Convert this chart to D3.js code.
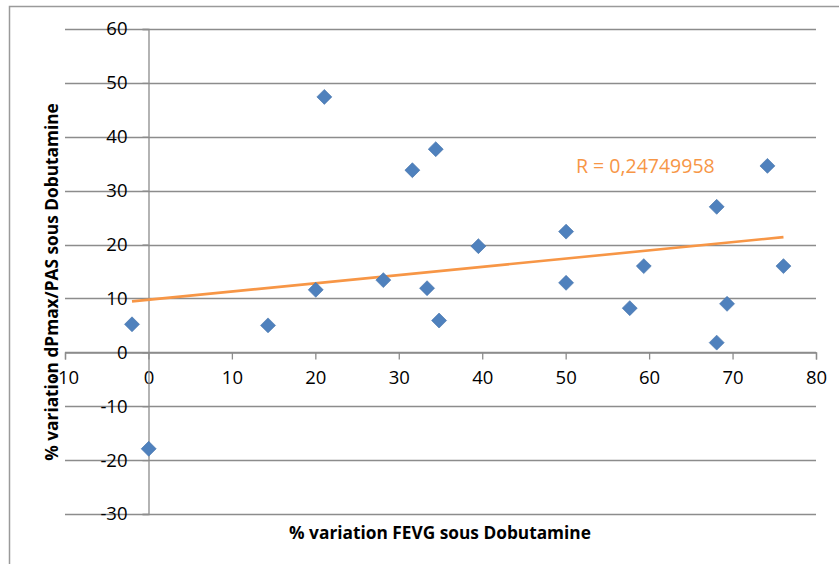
<!DOCTYPE html>
<html>
<head>
<meta charset="utf-8">
<script src="https://cdn.jsdelivr.net/npm/d3@7"></script>
<style>
  html, body { margin: 0; padding: 0; background: #fff; }
  svg { display: block; }
  text { font-family: "Open Sans", "Liberation Sans", sans-serif; }
</style>
</head>
<body>
<svg id="chart" width="839" height="564"></svg>
<script>
// ---- data ----
const xValues = [-1.97, 0.03, 14.33, 20.05, 21.08, 28.15, 31.63, 33.39, 34.43, 34.83, 39.54, 50.05, 50.05, 57.68, 59.36, 68.1, 68.1, 69.34, 74.18, 76.1];
const yValues = [5.2, -17.9, 5.0, 11.6, 47.4, 13.4, 33.8, 11.9, 37.7, 5.9, 19.7, 22.4, 12.9, 8.2, 16.0, 27.0, 1.8, 9.0, 34.6, 16.0];
const xTicks = [-10, 0, 10, 20, 30, 40, 50, 60, 70, 80];
const yTicks = [-30, -20, -10, 0, 10, 20, 30, 40, 50, 60];
const xTitle = "% variation FEVG sous Dobutamine";
const yTitle = "% variation dPmax/PAS sous Dobutamine";
const rLabel = "R = 0,24749958";

// ---- layout ----
const svg = d3.select("#chart");
const plot = { left: 65, right: 816, top: 29, bottom: 514 };
const x = d3.scaleLinear().domain([-10, 80]).range([plot.left, plot.right]);
const y = d3.scaleLinear().domain([-30, 60]).range([plot.bottom, plot.top]);
const gridColor = "#8c8c8c";
const fmt = d => String(d);

// outer frame (extends beyond the visible area on the right/bottom)
svg.append("path")
  .attr("d", `M9.5,${570} L9.5,6.5 L845,6.5`)
  .attr("fill", "none").attr("stroke", "#9a9a9a").attr("stroke-width", 1.5);

// horizontal gridlines
svg.append("g").selectAll("line").data(yTicks).join("line")
  .attr("x1", plot.left).attr("x2", plot.right)
  .attr("y1", d => Math.round(y(d)) + 0.5).attr("y2", d => Math.round(y(d)) + 0.5)
  .attr("stroke", gridColor).attr("stroke-width", 1.3);

// horizontal axis at y = 0
const xAxisG = svg.append("g")
  .attr("transform", `translate(0,${Math.round(y(0)) + 0.5})`)
  .call(d3.axisBottom(x).tickValues(xTicks).tickSize(7).tickPadding(11).tickFormat(fmt));
xAxisG.select(".domain").attr("stroke", gridColor).attr("stroke-width", 1.3);
xAxisG.selectAll(".tick line").attr("stroke", gridColor).attr("stroke-width", 1.3);
xAxisG.selectAll(".tick text")
  .attr("font-size", 18.5).attr("fill", "#000")
  .style("font-family", "'Open Sans', sans-serif");

// vertical axis at x = 0
const yAxisG = svg.append("g")
  .attr("transform", `translate(${Math.round(x(0)) + 0.5},0)`)
  .call(d3.axisLeft(y).tickValues(yTicks).tickSize(6).tickPadding(15).tickFormat(fmt));
yAxisG.select(".domain").attr("stroke", gridColor).attr("stroke-width", 1.3);
yAxisG.selectAll(".tick line").attr("stroke", gridColor).attr("stroke-width", 1.3);
yAxisG.selectAll(".tick text")
  .attr("font-size", 18.5).attr("fill", "#000")
  .style("font-family", "'Open Sans', sans-serif");

// trend line (least squares from the data)
const n = xValues.length;
const mx = d3.mean(xValues), my = d3.mean(yValues);
let sxy = 0, sxx = 0;
for (let i = 0; i < n; i++) { sxy += (xValues[i] - mx) * (yValues[i] - my); sxx += (xValues[i] - mx) ** 2; }
const slope = sxy / sxx, intercept = my - slope * mx;
const [x0, x1] = d3.extent(xValues);
svg.append("line")
  .attr("x1", x(x0)).attr("y1", y(intercept + slope * x0))
  .attr("x2", x(x1)).attr("y2", y(intercept + slope * x1))
  .attr("stroke", "#F79646").attr("stroke-width", 2.6);

// points
const pts = xValues.map((v, i) => [v, yValues[i]]);
svg.append("g").selectAll("path").data(pts).join("path")
  .attr("d", d3.symbol(d3.symbolSquare, 112))
  .attr("transform", d => `translate(${x(d[0])},${y(d[1])}) rotate(45)`)
  .attr("fill", "#4F81BD").attr("stroke", "#4673AB").attr("stroke-width", 0.6);

// R label
svg.append("text")
  .attr("x", 576).attr("y", 165)
  .attr("dominant-baseline", "central")
  .attr("font-size", 19.5).attr("fill", "#F79646")
  .text(rLabel);

// axis titles
svg.append("text")
  .attr("x", 440).attr("y", 532)
  .attr("text-anchor", "middle").attr("dominant-baseline", "central")
  .attr("font-size", 17.3).attr("font-weight", "bold").attr("fill", "#000")
  .text(xTitle);

svg.append("text")
  .attr("transform", `translate(51,282) rotate(-90)`)
  .attr("text-anchor", "middle").attr("dominant-baseline", "central")
  .attr("font-size", 17.3).attr("font-weight", "bold").attr("fill", "#000")
  .text(yTitle);
</script>
</body>
</html>
